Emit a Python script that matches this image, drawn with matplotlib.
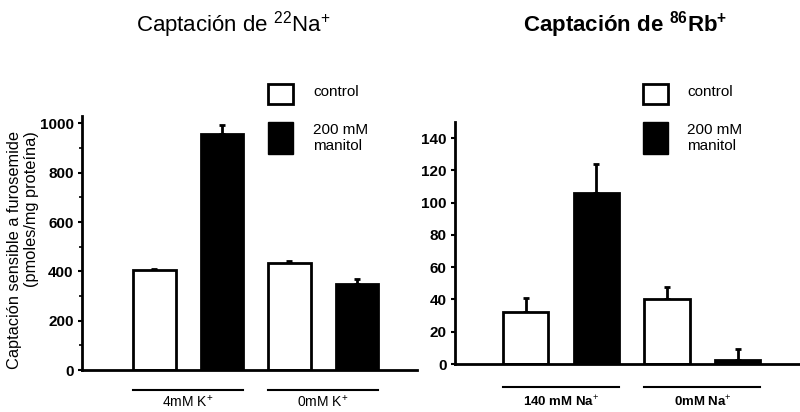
import numpy as np
import matplotlib
matplotlib.use("Agg")
import matplotlib.pyplot as plt
from matplotlib.patches import Rectangle

plt.rcParams['font.family'] = ['Liberation Sans', 'DejaVu Sans']
plt.rcParams['mathtext.fontset'] = 'custom'
plt.rcParams['mathtext.rm'] = 'Liberation Sans'
plt.rcParams['mathtext.bf'] = 'Liberation Sans:bold'

# Data
series = ['control', '200 mM\nmanitol']
na_groups = ['4mM K$^{+}$', '0mM K$^{+}$']
na_values = [405, 955, 435, 350]      # control, manitol, control, manitol
na_errors = [5, 40, 8, 20]
rb_groups = ['140 mM Na$^{+}$', '0mM Na$^{+}$']
rb_values = [32, 106, 40, 2.5]
rb_errors = [9, 18, 8, 7]
bar_colors = ['white', 'black', 'white', 'black']

W, H = 800, 412
fig = plt.figure(figsize=(W / 100, H / 100), dpi=100)


def px_box(x0, y_top, x1, y_bottom):
    # pixel box (origin top-left) -> figure fraction [l, b, w, h]
    return [x0 / W, 1 - y_bottom / H, (x1 - x0) / W, (y_bottom - y_top) / H]


def draw_panel(ax, values, errors, groups, ylim, yticks, minor, width, line_y, label_y, group_font):
    x = np.arange(len(values))
    ax.bar(x, values, width=width, color=bar_colors, edgecolor='black', linewidth=2, zorder=2)
    ax.errorbar(x, values, yerr=[np.zeros(len(errors)), errors], fmt='none',
                ecolor='black', elinewidth=2, capsize=2.5, capthick=2, zorder=1)
    ax.set_ylim(*ylim)
    ax.set_yticks(yticks)
    if minor is not None:
        ax.set_yticks(minor, minor=True)
    ax.set_xticks([])
    for s in ['top', 'right']:
        ax.spines[s].set_visible(False)
    ax.spines['left'].set_linewidth(2)
    ax.spines['bottom'].set_linewidth(2)
    ax.tick_params(axis='y', length=3, width=1.5, pad=3, labelsize=11)
    ax.tick_params(axis='y', which='minor', length=2, width=1.2)
    for t in ax.get_yticklabels():
        t.set_fontweight('bold')
    # group underlines and labels
    tr = ax.get_xaxis_transform()
    for i, g in enumerate(groups):
        a, b = 2 * i - width / 2, 2 * i + 1 + width / 2
        ax.plot([a, b], [line_y, line_y], color='black', lw=1.5, transform=tr, clip_on=False)
        ax.text((a + b) / 2, label_y, g, transform=tr, ha='center', va='center',
                clip_on=False, **group_font)


# left panel: 22Na uptake
ax1 = fig.add_axes(px_box(82, 116, 417, 370))
ax1.set_xlim(-1.07, 3.89)
draw_panel(ax1, na_values, na_errors, na_groups, (0, 1030), np.arange(0, 1001, 200),
           np.arange(100, 1000, 200), 0.63, -0.079, -0.125,
           dict(fontsize=10))

# right panel: 86Rb uptake
ax2 = fig.add_axes(px_box(455, 122, 800, 364))
ax2.set_xlim(-1.0, 3.88)
draw_panel(ax2, rb_values, rb_errors, rb_groups, (0, 150), np.arange(0, 141, 20),
           None, 0.64, -0.095, -0.158, dict(fontsize=9.5, fontweight='bold'))

fig.text(23 / W, 1 - 131 / H, 'Captación sensible a furosemide\n(pmoles/mg proteína)',
         rotation=90, ha='center', va='top', multialignment='right',
         fontsize=11.8, linespacing=1.1)

fig.text(233 / W, 1 - 25 / H, 'Captación de $^{22}$Na$^{+}$', ha='center', va='center',
         fontsize=16)
fig.text(625 / W, 1 - 25 / H, r'Captación de $\mathbf{^{86}Rb^{+}}$', ha='center', va='center',
         fontsize=16, fontweight='bold')

# legends, drawn by hand
for x0, tx in [(268, 313), (643, 687)]:
    fig.add_artist(Rectangle((x0 / W, 1 - 104 / H), 25 / W, 20 / H, transform=fig.transFigure,
                             facecolor='white', edgecolor='black', lw=2))
    fig.add_artist(Rectangle((x0 / W, 1 - 154 / H), 25 / W, 32 / H, transform=fig.transFigure,
                             facecolor='black', edgecolor='black', lw=1))
    fig.text(tx / W, 1 - 92 / H, series[0], ha='left', va='center', fontsize=11)
    fig.text(tx / W, 1 - 138 / H, series[1], ha='left', va='center', fontsize=11,
             linespacing=1.15)

fig.savefig('out.png', dpi=100, facecolor='white')
